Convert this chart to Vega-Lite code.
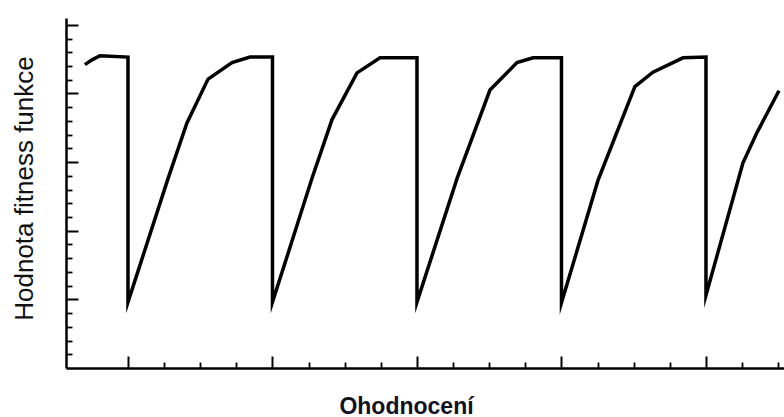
{
  "$schema": "https://vega.github.io/schema/vega-lite/v6.json",
  "width": 718,
  "height": 350,
  "autosize": "none",
  "padding": {"left": 66, "top": 18, "right": 0, "bottom": 49},
  "background": "white",
  "config": {"view": {"stroke": null}},
  "data": {
    "values": [
      {"ohodnoceni": 702, "fitness": 4.42},
      {"ohodnoceni": 751, "fitness": 4.49},
      {"ohodnoceni": 806, "fitness": 4.55},
      {"ohodnoceni": 1000, "fitness": 4.53},
      {"ohodnoceni": 1000, "fitness": 0.96},
      {"ohodnoceni": 1277, "fitness": 2.76},
      {"ohodnoceni": 1408, "fitness": 3.57},
      {"ohodnoceni": 1554, "fitness": 4.21},
      {"ohodnoceni": 1720, "fitness": 4.45},
      {"ohodnoceni": 1844, "fitness": 4.53},
      {"ohodnoceni": 2000, "fitness": 4.53},
      {"ohodnoceni": 2000, "fitness": 0.96},
      {"ohodnoceni": 2273, "fitness": 2.76},
      {"ohodnoceni": 2412, "fitness": 3.62},
      {"ohodnoceni": 2585, "fitness": 4.3},
      {"ohodnoceni": 2744, "fitness": 4.52},
      {"ohodnoceni": 3000, "fitness": 4.52},
      {"ohodnoceni": 3000, "fitness": 0.96},
      {"ohodnoceni": 3277, "fitness": 2.76},
      {"ohodnoceni": 3505, "fitness": 4.05},
      {"ohodnoceni": 3692, "fitness": 4.45},
      {"ohodnoceni": 3803, "fitness": 4.52},
      {"ohodnoceni": 4000, "fitness": 4.52},
      {"ohodnoceni": 4000, "fitness": 0.95},
      {"ohodnoceni": 4252, "fitness": 2.73},
      {"ohodnoceni": 4508, "fitness": 4.1},
      {"ohodnoceni": 4633, "fitness": 4.31},
      {"ohodnoceni": 4841, "fitness": 4.52},
      {"ohodnoceni": 5000, "fitness": 4.53},
      {"ohodnoceni": 5000, "fitness": 1.06},
      {"ohodnoceni": 5256, "fitness": 2.99},
      {"ohodnoceni": 5353, "fitness": 3.43},
      {"ohodnoceni": 5505, "fitness": 4.04}
    ]
  },
  "layer": [
    {
      "mark": {"type": "line", "color": "black", "strokeWidth": 3.5, "strokeJoin": "miter", "strokeMiterLimit": 10, "strokeCap": "butt"},
      "encoding": {
        "x": {
          "field": "ohodnoceni", "type": "quantitative",
          "scale": {"domain": [571, 5540], "nice": false, "zero": false},
          "axis": {
            "orient": "bottom", "title": "Ohodnocení", "labels": false, "grid": false,
            "values": [1000, 2000, 3000, 4000, 5000],
            "tickSize": -12, "tickWidth": 2, "tickColor": "black",
            "domainColor": "black", "domainWidth": 2.5,
            "titleFont": "Liberation Sans", "titleFontSize": 23, "titleFontWeight": "bold", "titleColor": "#111122",
            "titleX": 340, "titleY": 45, "titleAlign": "center", "titleBaseline": "alphabetic"
          }
        },
        "y": {
          "field": "fitness", "type": "quantitative",
          "scale": {"domain": [0, 5.1], "nice": false, "zero": false},
          "axis": {
            "orient": "left", "title": "Hodnota fitness funkce", "labels": false, "grid": false,
            "values": [1, 2, 3, 4, 5],
            "tickSize": -12, "tickWidth": 2, "tickColor": "black",
            "domainColor": "black", "domainWidth": 2.5,
            "titleFont": "Liberation Sans", "titleFontSize": 26, "titleFontWeight": "normal", "titleColor": "#111111",
            "titleAngle": -90, "titleX": -34, "titleY": 170, "titleAlign": "center", "titleBaseline": "alphabetic"
          }
        }
      }
    },
    {
      "mark": {"type": "point", "opacity": 0},
      "encoding": {
        "x": {
          "field": "ohodnoceni", "type": "quantitative",
          "axis": {
            "orient": "bottom", "title": null, "labels": false, "grid": false, "domain": false,
            "values": [1250, 1500, 1750, 2250, 2500, 2750, 3250, 3500, 3750, 4250, 4500, 4750, 5250, 5500],
            "tickSize": -6, "tickWidth": 1.8, "tickColor": "black"
          }
        },
        "y": {
          "field": "fitness", "type": "quantitative",
          "axis": {
            "orient": "left", "title": null, "labels": false, "grid": false, "domain": false,
            "values": [0.2, 0.4, 0.6, 0.8, 1.2, 1.4, 1.6, 1.8, 2.2, 2.4, 2.6, 2.8, 3.2, 3.4, 3.6, 3.8, 4.2, 4.4, 4.6, 4.8],
            "tickSize": -6, "tickWidth": 1.8, "tickColor": "black"
          }
        }
      }
    }
  ],
  "resolve": {"axis": {"x": "independent", "y": "independent"}}
}
